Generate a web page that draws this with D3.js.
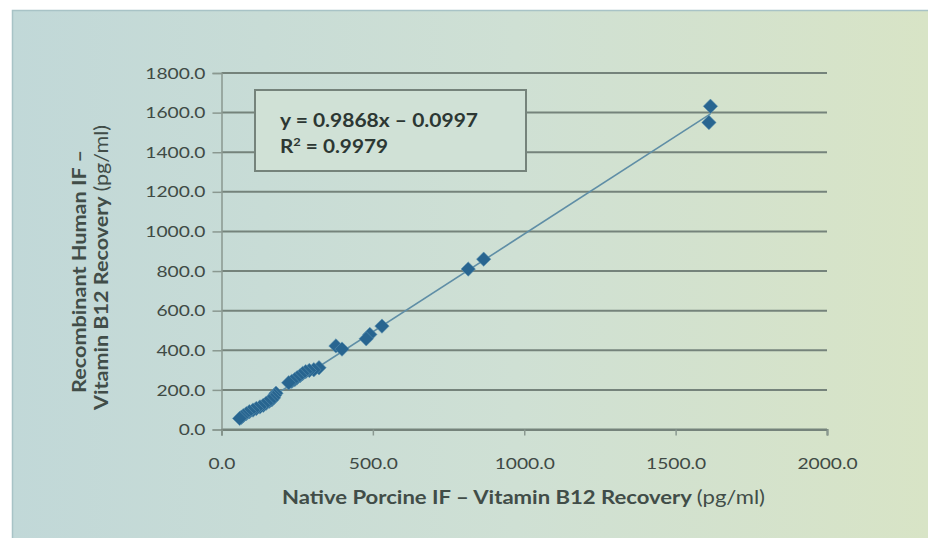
<!DOCTYPE html>
<html>
<head>
<meta charset="utf-8">
<script src="https://cdn.jsdelivr.net/npm/d3@7"></script>
<style>
  html, body { margin: 0; padding: 0; background: #ffffff; }
  svg { display: block; }
</style>
</head>
<body>
<svg id="chart" width="928" height="538"></svg>
<script>
// ---- data ----
const porcine = [1615, 1610, 866, 815, 530, 490, 478, 378, 398, 322, 305, 290, 278, 268, 260, 250, 242, 232, 222, 180, 175, 172, 166, 158, 148, 138, 127, 115, 104, 92, 82, 72, 66, 60];
const recombinant = [1632, 1550, 860, 810, 522, 480, 458, 422, 406, 312, 302, 298, 292, 283, 272, 262, 252, 243, 236, 183, 172, 160, 150, 143, 133, 122, 114, 106, 98, 90, 80, 70, 62, 56];
const xTicks = [0, 500, 1000, 1500, 2000];
const yTicks = [0, 200, 400, 600, 800, 1000, 1200, 1400, 1600, 1800];
const slope = 0.9868, intercept = -0.0997;
const eqLine1 = "y = 0.9868x \u2013 0.0997";
const eqR2 = "0.9979";
const xTitle = "Native Porcine IF \u2013 Vitamin B12 Recovery ";
const yTitle1 = "Recombinant Human IF \u2013";
const yTitle2 = "Vitamin B12 Recovery ";
const unit = "(pg/ml)";

const svg = d3.select("#chart");
const FONT = "Lato, 'Open Sans', sans-serif";
const STRETCH = 1.22;

function stretch(sel, f) {
  sel.each(function () {
    const w = this.getComputedTextLength();
    d3.select(this).attr("textLength", w * (f || STRETCH)).attr("lengthAdjust", "spacingAndGlyphs");
  });
}
function fit(sel, w) {
  sel.attr("textLength", w).attr("lengthAdjust", "spacingAndGlyphs");
}

// background
const defs = svg.append("defs");
const grad = defs.append("linearGradient").attr("id", "bg").attr("x1", "0").attr("x2", "1").attr("y1", "0").attr("y2", "0");
grad.append("stop").attr("offset", "0%").attr("stop-color", "#c1d8d8");
grad.append("stop").attr("offset", "55%").attr("stop-color", "#cfe0d4");
grad.append("stop").attr("offset", "100%").attr("stop-color", "#d8e4c6");
svg.append("rect").attr("x", 12).attr("y", 10).attr("width", 916).attr("height", 528)
  .attr("fill", "url(#bg)");
svg.append("path").attr("d", "M12.5,538 V10.5 H928").attr("fill", "none").attr("stroke", "#a8c3c6").attr("stroke-width", 1.5);

// scales
const x = d3.scaleLinear().domain([0, 2000]).range([221.5, 827]);
const y = d3.scaleLinear().domain([0, 1800]).range([429.5, 73]);

// gridlines
svg.append("g").selectAll("line").data(yTicks).join("line")
  .attr("x1", x(0)).attr("x2", x(2000))
  .attr("y1", d => y(d)).attr("y2", d => y(d))
  .attr("stroke", "#75837b").attr("stroke-width", 2);

// y axis
const yAxis = svg.append("g").attr("transform", `translate(${x(0)},0)`)
  .call(d3.axisLeft(y).tickValues(yTicks).tickFormat(d3.format(".1f")).tickSize(9).tickPadding(7));
yAxis.select(".domain").attr("stroke", "#8a9890").attr("stroke-width", 1.5);
yAxis.selectAll(".tick line").attr("stroke", "#8a9890").attr("stroke-width", 1.5);
yAxis.selectAll("text").attr("font-family", FONT).attr("font-size", 16).attr("fill", "#3f4a45")
  .call(stretch, 1.2);

// x axis
const xAxis = svg.append("g").attr("transform", `translate(0,${y(0)})`)
  .call(d3.axisBottom(x).tickValues(xTicks).tickFormat(d3.format(".1f")).tickSize(6).tickPadding(22));
xAxis.select(".domain").attr("stroke", "#75837b").attr("stroke-width", 2);
xAxis.selectAll(".tick line").attr("stroke", "#8a9890").attr("stroke-width", 1.5);
xAxis.selectAll("text").attr("font-family", FONT).attr("font-size", 16).attr("fill", "#3f4a45")
  .call(stretch, 1.2);

// trend line
const xMin = d3.min(porcine), xMax = d3.max(porcine);
svg.append("line")
  .attr("x1", x(xMin)).attr("y1", y(slope * xMin + intercept))
  .attr("x2", x(xMax)).attr("y2", y(slope * xMax + intercept))
  .attr("stroke", "#5f8ea6").attr("stroke-width", 1.6);

// points (diamonds)
const r = 7.2;
svg.append("g").selectAll("path").data(porcine.map((v, i) => [v, recombinant[i]])).join("path")
  .attr("d", d => {
    const cx = x(d[0]), cy = y(d[1]);
    return `M${cx},${cy - r}L${cx + r},${cy}L${cx},${cy + r}L${cx - r},${cy}Z`;
  })
  .attr("fill", "#286590").attr("stroke", "#5b92b0").attr("stroke-width", 0.8).attr("stroke-opacity", 0.7);

// equation box
svg.append("rect").attr("x", 255).attr("y", 90).attr("width", 271).attr("height", 81)
  .attr("fill", "#d0e1d6").attr("stroke", "#75837b").attr("stroke-width", 2);
const eq = svg.append("g").attr("font-family", FONT).attr("font-weight", "bold").attr("fill", "#2c3733").attr("font-size", 18.5);
eq.append("text").attr("x", 280).attr("y", 127).text(eqLine1).call(fit, 198);
const t2 = eq.append("text").attr("x", 280).attr("y", 153);
t2.append("tspan").text("R");
t2.append("tspan").attr("font-size", 11.5).attr("dy", -7).text("2");
t2.append("tspan").attr("dy", 7).text(" = " + eqR2);
t2.call(fit, 108);

// axis titles
const xt = svg.append("text").attr("x", 282).attr("y", 504)
  .attr("font-family", FONT).attr("font-size", 18.5).attr("fill", "#414d48");
xt.append("tspan").attr("font-weight", "bold").text(xTitle);
xt.append("tspan").attr("font-weight", "normal").text(unit);
xt.call(fit, 483);

const yt = svg.append("g").attr("transform", "rotate(-90)")
  .attr("font-family", FONT).attr("font-size", 18.5).attr("fill", "#414d48");
yt.append("text").attr("x", -393).attr("y", 86).attr("font-weight", "bold")
  .text(yTitle1).call(fit, 243);
const yt2 = yt.append("text").attr("x", -410).attr("y", 108);
yt2.append("tspan").attr("font-weight", "bold").text(yTitle2);
yt2.append("tspan").attr("font-weight", "normal").text(unit);
yt2.call(fit, 285);
</script>
</body>
</html>
